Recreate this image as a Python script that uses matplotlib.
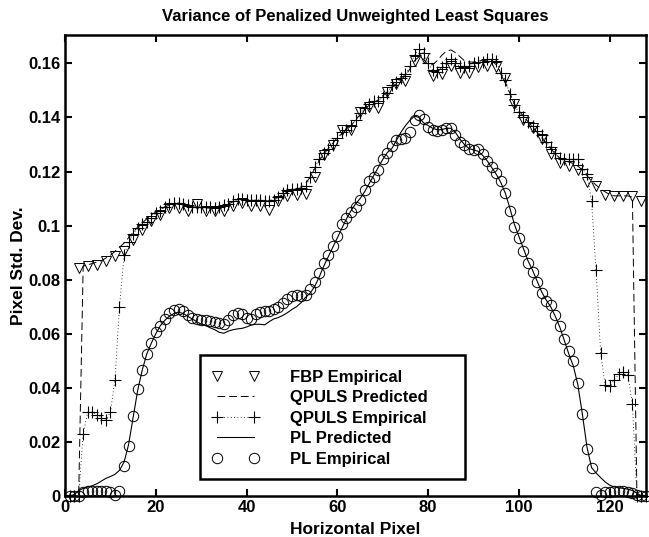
import numpy as np
import matplotlib
matplotlib.use('Agg')
import matplotlib.pyplot as plt
from matplotlib.patches import Rectangle

plt.rcParams['font.family'] = ['Liberation Sans', 'DejaVu Sans']
plt.rcParams['font.weight'] = 'bold'

# horizontal pixel index
pix = np.arange(1, 129)

# FBP empirical, every other pixel
fbp_x = np.arange(3, 128, 2)
fbp_emp = [0.0843, 0.085, 0.0856, 0.0868, 0.0886, 0.0905, 0.0948, 0.0985, 0.1016, 0.1041,
           0.1065, 0.1065, 0.1053, 0.108, 0.1053, 0.1053, 0.1053, 0.1072, 0.1084, 0.1072,
           0.1072, 0.1059, 0.109, 0.1109, 0.1115, 0.1118, 0.118, 0.126, 0.130, 0.1355,
           0.1355, 0.142, 0.144, 0.1435, 0.1495, 0.1525, 0.1535, 0.161, 0.162, 0.1555,
           0.156, 0.159, 0.1565, 0.1565, 0.1585, 0.159, 0.1585, 0.1545, 0.145, 0.139,
           0.136, 0.132, 0.1265, 0.123, 0.122, 0.1205, 0.116, 0.1145, 0.1115, 0.111,
           0.111, 0.111, 0.109]

qpuls_pred = [0, 0, 0, 0.085, 0.0855, 0.086, 0.0865, 0.087, 0.088, 0.089,
              0.0905, 0.092, 0.0935, 0.0955, 0.0975, 0.0995, 0.101, 0.1025, 0.104, 0.105,
              0.106, 0.107, 0.1075, 0.108, 0.108, 0.1078, 0.1072, 0.107, 0.1068, 0.1066,
              0.1065, 0.1065, 0.1066, 0.107, 0.1075, 0.108, 0.1088, 0.1092, 0.1095, 0.1095,
              0.1093, 0.109, 0.109, 0.109, 0.1092, 0.1097, 0.1105, 0.1115, 0.1125, 0.113,
              0.1135, 0.114, 0.1155, 0.118, 0.121, 0.124, 0.1265, 0.1285, 0.1305, 0.1325,
              0.134, 0.1355, 0.137, 0.139, 0.141, 0.143, 0.1445, 0.1455, 0.1465, 0.148,
              0.1495, 0.151, 0.1525, 0.154, 0.1555, 0.158, 0.161, 0.1625, 0.1615, 0.1595,
              0.1595, 0.161, 0.163, 0.1645, 0.165, 0.164, 0.1625, 0.161, 0.1605, 0.1605,
              0.161, 0.161, 0.1612, 0.161, 0.1595, 0.1565, 0.153, 0.149, 0.145, 0.1425,
              0.1405, 0.1385, 0.1365, 0.1345, 0.1325, 0.1305, 0.1285, 0.1265, 0.125, 0.124,
              0.1235, 0.123, 0.122, 0.1205, 0.1185, 0.1165, 0.115, 0.1135, 0.1125, 0.1115,
              0.111, 0.111, 0.111, 0.111, 0.1105, 0, 0, 0]

qpuls_emp = [0, 0, 0, 0.023, 0.031, 0.031, 0.030, 0.029, 0.028, 0.031,
             0.043, 0.070, 0.089, 0.094, 0.097, 0.099, 0.1005, 0.1015, 0.103, 0.1045,
             0.1055, 0.107, 0.108, 0.1085, 0.1085, 0.108, 0.1075, 0.107, 0.107, 0.107,
             0.107, 0.107, 0.1065, 0.107, 0.1075, 0.108, 0.109, 0.110, 0.110, 0.1095,
             0.1095, 0.1095, 0.1095, 0.109, 0.109, 0.1095, 0.1105, 0.112, 0.113, 0.1135,
             0.1135, 0.114, 0.1145, 0.118, 0.1215, 0.1245, 0.127, 0.1285, 0.130, 0.1325,
             0.1345, 0.1355, 0.137, 0.139, 0.1415, 0.1435, 0.145, 0.146, 0.146, 0.1475,
             0.149, 0.152, 0.153, 0.1545, 0.156, 0.159, 0.163, 0.1655, 0.164, 0.160,
             0.1575, 0.157, 0.1585, 0.160, 0.1615, 0.160, 0.159, 0.1585, 0.159, 0.160,
             0.1605, 0.1605, 0.1615, 0.1615, 0.161, 0.1565, 0.154, 0.1485, 0.1445, 0.142,
             0.140, 0.1385, 0.137, 0.135, 0.1335, 0.131, 0.129, 0.127, 0.125, 0.1245,
             0.1245, 0.1245, 0.1245, 0.121, 0.119, 0.109, 0.0835, 0.053, 0.041, 0.0405,
             0.043, 0.045, 0.046, 0.0448, 0.034, 0, 0, 0]

pl_pred = [0, 0.0005, 0.002, 0.0028, 0.0033, 0.0038, 0.0045, 0.0055, 0.0065, 0.0072,
           0.008, 0.0095, 0.0125, 0.019, 0.029, 0.039, 0.0465, 0.0525, 0.0565, 0.060,
           0.063, 0.065, 0.0665, 0.0675, 0.068, 0.0675, 0.0665, 0.0655, 0.0645, 0.0635,
           0.063, 0.0622, 0.0615, 0.0605, 0.0602, 0.061, 0.0615, 0.0618, 0.062, 0.0625,
           0.0632, 0.0635, 0.0635, 0.0633, 0.0645, 0.0655, 0.066, 0.0668, 0.0678, 0.069,
           0.070, 0.0715, 0.0735, 0.075, 0.0775, 0.081, 0.085, 0.0885, 0.092, 0.0955,
           0.099, 0.1025, 0.1055, 0.108, 0.110, 0.1125, 0.1155, 0.1185, 0.1215, 0.1245,
           0.127, 0.1285, 0.1315, 0.1345, 0.137, 0.139, 0.1405, 0.140, 0.138, 0.137,
           0.136, 0.1355, 0.1355, 0.136, 0.136, 0.1345, 0.132, 0.130, 0.1285, 0.128,
           0.1275, 0.126, 0.124, 0.1215, 0.119, 0.116, 0.112, 0.1065, 0.1005, 0.096,
           0.0915, 0.087, 0.0835, 0.0795, 0.0755, 0.0725, 0.070, 0.0665, 0.0625, 0.0575,
           0.0525, 0.048, 0.041, 0.030, 0.018, 0.0105, 0.0085, 0.0068, 0.0052, 0.004,
           0.0033, 0.003, 0.0028, 0.0025, 0.002, 0.001, 0, 0]

pl_emp = [0, 0, 0, 0.0015, 0.002, 0.002, 0.002, 0.0018, 0.0018, 0.0015,
          0.0005, 0.002, 0.011, 0.0185, 0.0296, 0.0395, 0.0467, 0.0525, 0.0565, 0.0605,
          0.063, 0.0655, 0.0675, 0.0688, 0.069, 0.0685, 0.067, 0.066, 0.0655, 0.065,
          0.065, 0.0648, 0.0645, 0.064, 0.0635, 0.065, 0.067, 0.0678, 0.0672, 0.0658,
          0.0655, 0.0672, 0.068, 0.0683, 0.0686, 0.069, 0.070, 0.0714, 0.0728, 0.074,
          0.0742, 0.0738, 0.0745, 0.0765, 0.079, 0.0825, 0.0862, 0.089, 0.0925, 0.096,
          0.1005, 0.103, 0.105, 0.107, 0.1095, 0.113, 0.1165, 0.118, 0.1205, 0.1245,
          0.127, 0.1295, 0.1315, 0.132, 0.1325, 0.1345, 0.139, 0.141, 0.1395, 0.1365,
          0.1355, 0.135, 0.1352, 0.136, 0.1362, 0.1335, 0.131, 0.1298, 0.1282, 0.128,
          0.1282, 0.1265, 0.124, 0.1215, 0.1195, 0.1165, 0.112, 0.1053, 0.0995, 0.0955,
          0.0905, 0.0862, 0.083, 0.0792, 0.0752, 0.0722, 0.0705, 0.0668, 0.063, 0.058,
          0.0538, 0.0498, 0.0418, 0.0303, 0.0175, 0.0103, 0.0014, 0.0004, 0.0015, 0.0016,
          0.0017, 0.0017, 0.0017, 0.0016, 0.0012, 0.0002, 0, 0]

fig = plt.figure(figsize=(6.49, 5.37), dpi=100)
ax = fig.add_axes([0.1002, 0.0764, 0.8952, 0.8584])

ax.plot(fbp_x, fbp_emp, linestyle='none', marker='v', markersize=7.5,
        markerfacecolor='none', markeredgecolor='k', markeredgewidth=0.7,
        clip_on=False, label='FBP Empirical')
ax.plot(pix, qpuls_pred, color='k', linewidth=0.7, dashes=(8, 4), label='QPULS Predicted')
ax.plot(pix, qpuls_emp, color='k', linewidth=0.6, linestyle=(0, (1, 3)), marker='+',
        markersize=8, markeredgewidth=0.8, clip_on=False, label='QPULS Empirical')
ax.plot(pix, pl_pred, color='k', linewidth=0.8, label='PL Predicted')
ax.plot(pix, pl_emp, linestyle='none', marker='o', markersize=7.5,
        markerfacecolor='none', markeredgecolor='k', markeredgewidth=0.7,
        clip_on=False, label='PL Empirical')

ax.set_xlim(0, 128)
ax.set_ylim(0, 0.1705)
ax.set_xticks([0, 20, 40, 60, 80, 100, 120])
ax.set_yticks([0, 0.02, 0.04, 0.06, 0.08, 0.1, 0.12, 0.14, 0.16])
ax.set_yticklabels(['0', '0.02', '0.04', '0.06', '0.08', '0.1', '0.12', '0.14', '0.16'])
ax.tick_params(direction='in', length=5, width=1.5, top=True, right=True,
               labelsize=12, pad=3)
for lab in ax.get_xticklabels() + ax.get_yticklabels():
    lab.set_fontweight('bold')
for s in ax.spines.values():
    s.set_linewidth(1.8)
    s.set_zorder(10)

ax.set_xlabel('Horizontal Pixel', fontsize=12.5, fontweight='bold', labelpad=5)
ax.set_ylabel('Pixel Std. Dev.', fontsize=12.5, fontweight='bold', labelpad=2)
ax.set_title('Variance of Penalized Unweighted Least Squares', fontsize=12,
             fontweight='bold', pad=10)

# legend box drawn separately (matlab style: wide right margin)
ax.add_patch(Rectangle((0.2324, 0.0369), 0.4561, 0.2690, transform=ax.transAxes,
                       facecolor='white', edgecolor='k', linewidth=1.8, zorder=4.5))
leg = ax.legend(loc='upper left', bbox_to_anchor=(0.253, 0.274), numpoints=2,
                handlelength=2.8, handletextpad=1.9, labelspacing=0.33,
                fontsize=12, frameon=False, borderpad=0, borderaxespad=0)
leg.set_zorder(5)
for t in leg.get_texts():
    t.set_fontweight('bold')

fig.savefig('out.png', dpi=100)
